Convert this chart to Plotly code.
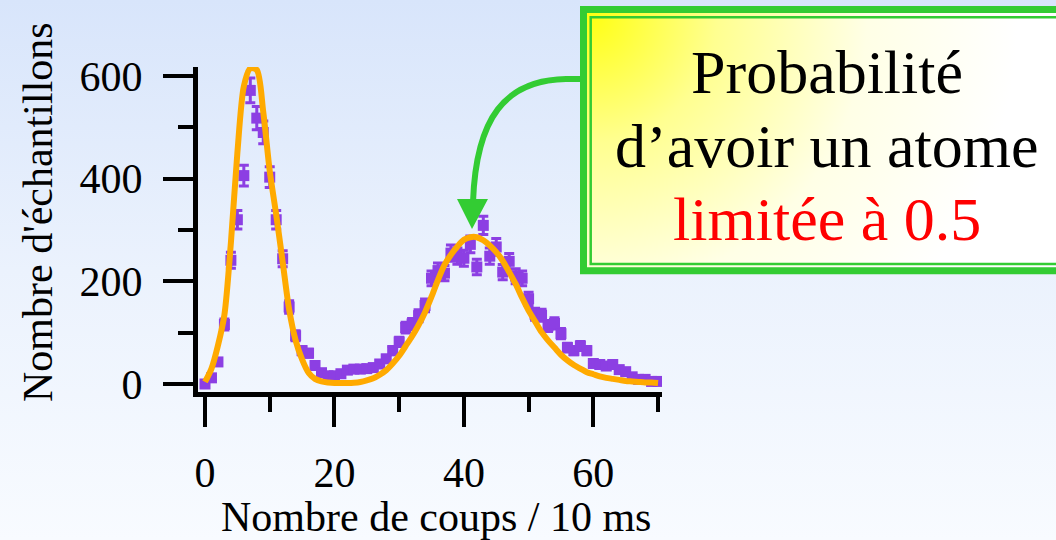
import base64
import plotly.graph_objects as go

# ---------------- data ----------------
counts_x = list(range(71))
counts = [0, 12, 43, 116, 241, 320, 406, 572, 518, 490,
          403, 320, 244, 150, 94, 65, 60, 36, 22, 16,
          16, 20, 27, 29, 29, 30, 32, 39, 49, 65,
          82, 110, 117, 133, 153, 206, 221, 216, 255, 249,
          245, 272, 228, 309, 249, 267, 218, 239, 210, 206,
          166, 136, 134, 113, 118, 98, 71, 65, 74, 65,
          40, 38, 35, 38, 28, 24, 14, 9, 9, 5,
          5]
# Poisson error bars (sqrt of counts), as drawn in the picture
count_err = [c ** 0.5 for c in counts]

fit_x = list(range(71))
fit_y = [4, 30, 75, 135, 275, 450, 580, 615, 612, 530,
         415, 330, 238, 145, 85, 48, 22, 10, 5, 3,
         2, 2, 2, 2.5, 4, 7, 11, 18, 27, 40,
         55, 74, 93, 115, 140, 170, 203, 232, 252, 268,
         281, 286, 286, 280, 270, 257, 240, 218, 195, 168,
         143, 122, 101, 85, 71, 57, 46, 37, 30, 23,
         19, 15, 12, 10, 8, 6, 5, 4, 3, 3,
         2]

x_tickvals = [0, 20, 40, 60]
y_tickvals = [0, 200, 400, 600]
x_title = "Nombre de coups / 10 ms"
y_title = "Nombre d'échantillons"
box_lines = ["Probabilité", "d’avoir un atome", "limitée à 0.5"]

# ---------------- geometry ----------------
W, H = 1056, 540
L, R, T, B = 198, 662, 67, 392
PW, PH = R - L, B - T


def px(xp):
    return (xp - L) / PW


def py(yp):
    return (B - yp) / PH


def path(cmds):
    out = []
    for c in cmds:
        if isinstance(c, str):
            out.append(c)
        else:
            out.append(f"{px(c[0]):.5f},{py(c[1]):.5f}")
    return " ".join(out)


SERIF = "Liberation Serif, Times New Roman, serif"
PURPLE = "#8c3fe3"
ORANGE = "#ffaa00"
GREEN = "#33cc33"

# background + callout gradient as inline svg
svg = f'''<svg xmlns="http://www.w3.org/2000/svg" width="{W}" height="{H}" viewBox="0 0 {W} {H}" preserveAspectRatio="none">
<defs>
<linearGradient id="bg" x1="0" y1="0" x2="0" y2="1">
<stop offset="0" stop-color="#d8e5fb"/><stop offset="0.5" stop-color="#ebf2fd"/><stop offset="1" stop-color="#f8fbff"/></linearGradient>
<radialGradient id="bx" gradientUnits="userSpaceOnUse" cx="588" cy="14" r="430">
<stop offset="0" stop-color="#ffff10"/><stop offset="0.3" stop-color="#ffff90"/><stop offset="0.65" stop-color="#ffffe6"/><stop offset="1" stop-color="#ffffff"/></radialGradient>
</defs>
<rect x="0" y="0" width="{W}" height="{H}" fill="url(#bg)"/>
<rect x="580" y="6" width="520" height="268" fill="url(#bx)"/>
</svg>'''
src = "data:image/svg+xml;base64," + base64.b64encode(svg.encode("utf-8")).decode("ascii")

fig = go.Figure()

fig.add_trace(go.Scatter(
    x=counts_x, y=counts, mode="markers",
    marker=dict(symbol="square", size=11, color=PURPLE, line=dict(width=0)),
    error_y=dict(type="data", array=count_err, visible=True,
                 color=PURPLE, thickness=3, width=5),
    showlegend=False, hoverinfo="skip"))

fig.add_trace(go.Scatter(
    x=fit_x, y=fit_y, mode="lines",
    line=dict(color=ORANGE, width=6, shape="spline", smoothing=0.8),
    showlegend=False, hoverinfo="skip"))

x_per_px = 1 / 6.472
y_per_px = 1 / 0.5133
x0_px, y0_px = 205, 384
xr = [(L - x0_px) * x_per_px, (R - x0_px) * x_per_px]
yr = [(y0_px - B) * y_per_px, (y0_px - T) * y_per_px]

fig.update_xaxes(
    range=xr, showgrid=False, zeroline=False,
    showline=True, linecolor="black", linewidth=5,
    ticks="outside", ticklen=30, tickwidth=4, tickcolor="black",
    tickvals=x_tickvals, tickfont=dict(family=SERIF, size=42, color="black"),
    ticklabelstandoff=10,
    minor=dict(ticks="outside", ticklen=15, tickwidth=4, tickcolor="black",
               dtick=10, tick0=0, showgrid=False),
)
fig.update_yaxes(
    range=yr, showgrid=False, zeroline=False,
    showline=True, linecolor="black", linewidth=5,
    ticks="outside", ticklen=30, tickwidth=4, tickcolor="black",
    tickvals=y_tickvals, tickfont=dict(family=SERIF, size=42, color="black"),
    ticklabelstandoff=12,
    minor=dict(ticks="outside", ticklen=15, tickwidth=4, tickcolor="black",
               dtick=100, tick0=0, showgrid=False),
)

shapes = [
    # callout borders
    dict(type="path", xref="paper", yref="paper",
         path=path(["M", (1070, 9.5), "L", (583.5, 9.5), "L", (583.5, 270.8), "L", (1070, 270.8)]),
         line=dict(color=GREEN, width=7)),
    dict(type="path", xref="paper", yref="paper",
         path=path(["M", (1070, 17.3), "L", (590.7, 17.3), "L", (590.7, 264), "L", (1070, 264)]),
         line=dict(color=GREEN, width=2.5)),
    # curved arrow
    dict(type="path", xref="paper", yref="paper",
         path=path(["M", (582, 79), "L", (566, 79), "C", (505, 80), (476, 118), (473, 202)]),
         line=dict(color=GREEN, width=6)),
    dict(type="path", xref="paper", yref="paper",
         path=path(["M", (457, 199), "L", (488, 199), "L", (472, 229), "Z"]),
         line=dict(color=GREEN, width=0), fillcolor=GREEN),
]

annotations = [
    dict(text=x_title, x=px(436), y=py(517), xref="paper", yref="paper",
         showarrow=False, xanchor="center", yanchor="middle",
         font=dict(family=SERIF, size=42, color="black")),
    dict(text=y_title, x=px(38), y=py(212), xref="paper", yref="paper",
         showarrow=False, xanchor="center", yanchor="middle", textangle=-90,
         font=dict(family=SERIF, size=42, color="black")),
    dict(text=box_lines[0], x=px(827), y=py(72), xref="paper", yref="paper",
         showarrow=False, xanchor="center", yanchor="middle",
         font=dict(family=SERIF, size=62, color="black")),
    dict(text=box_lines[1], x=px(827), y=py(146), xref="paper", yref="paper",
         showarrow=False, xanchor="center", yanchor="middle",
         font=dict(family=SERIF, size=62, color="black")),
    dict(text=box_lines[2], x=px(827), y=py(219), xref="paper", yref="paper",
         showarrow=False, xanchor="center", yanchor="middle",
         font=dict(family=SERIF, size=62, color="#ff0000")),
]

fig.update_layout(
    width=W, height=H,
    margin=dict(l=L, r=W - R, t=T, b=H - B, pad=0),
    paper_bgcolor="#f4f8fe", plot_bgcolor="rgba(0,0,0,0)",
    images=[dict(source=src, xref="paper", yref="paper",
                 x=px(0), y=py(0), sizex=W / PW, sizey=H / PH,
                 xanchor="left", yanchor="top", sizing="stretch", layer="below")],
    shapes=shapes, annotations=annotations,
    showlegend=False,
)

fig.write_html("out.html", config={"displayModeBar": False})
